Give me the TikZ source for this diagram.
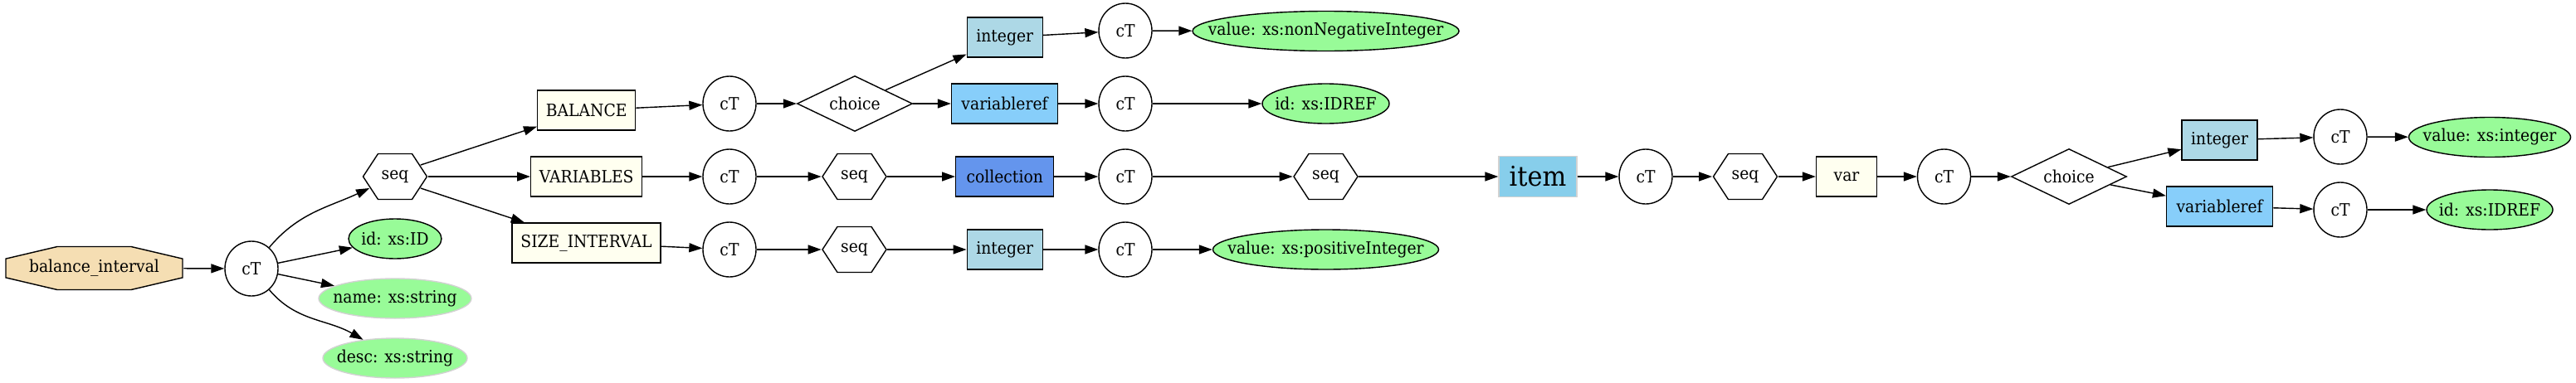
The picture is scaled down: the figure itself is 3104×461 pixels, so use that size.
\documentclass[tikz,border=0pt]{standalone}
\usepackage{fontspec}
\setmainfont{DejaVu Serif}[FakeStretch=0.92]
\usetikzlibrary{arrows.meta,shapes.geometric}

\definecolor{wheat}{HTML}{F5DEB3}
\definecolor{palegreen}{HTML}{98FB98}
\definecolor{ivory}{HTML}{FFFFF0}
\definecolor{lightblue}{HTML}{ADD8E6}
\definecolor{lightskyblue}{HTML}{87CEFA}
\definecolor{cornflower}{HTML}{6495ED}
\definecolor{skyblue}{HTML}{87CEEB}

\begin{document}
\begin{tikzpicture}
  [x=0.5pt,y=-0.5pt,
   every node/.style={font=\fontsize{10.2}{12}\selectfont,inner sep=0pt},
   ct/.style={ellipse,draw,line width=.7pt,minimum width=32pt,minimum height=33pt},
   elem/.style={rectangle,draw,line width=.7pt,fill=ivory,minimum height=24pt},
   attr/.style={ellipse,draw,line width=.7pt,fill=palegreen,minimum height=24pt,inner xsep=-25pt},
   optattr/.style={attr,draw=gray!35},
   choicebox/.style={diamond,draw,line width=.7pt,shape aspect=2,minimum width=69.5pt,minimum height=33.5pt},
   seqbox/.style={minimum width=39.5pt,minimum height=28.5pt,
     path picture={\draw[line width=.7pt] ([xshift=.5pt]path picture bounding box.west)
       -- ++(9pt,13.75pt) -- ++(20.5pt,0pt) -- ++(9pt,-13.75pt)
       -- ++(-9pt,-13.75pt) -- ++(-20.5pt,0pt) -- cycle;}},
   rootbox/.style={minimum width=107.5pt,minimum height=27pt,
     path picture={\filldraw[fill=wheat,line width=.7pt] ([xshift=.5pt,yshift=5.7pt]path picture bounding box.west)
       -- ++(0pt,-11.4pt) -- ++(31pt,-7.3pt) -- ++(44.5pt,0pt) -- ++(31pt,7.3pt)
       -- ++(0pt,11.4pt) -- ++(-31pt,7.3pt) -- ++(-44.5pt,0pt) -- cycle;}},
   arr/.style={line width=.7pt,-{Triangle[length=8pt,width=5.5pt]}}]
  \useasboundingbox (0,0) rectangle (3104,461);

  \node[rootbox] (root) at (113.5,323.5) {balance\_interval};
  \node[ct] (ct1) at (303,324) {cT};
  \node[seqbox] (seq1) at (476,213) {seq};
  \node[attr,minimum width=56pt] (id1) at (476,288) {id: xs:ID};
  \node[optattr,minimum width=92pt] (name1) at (476,360) {name: xs:string};
  \node[optattr,minimum width=87pt] (desc1) at (476,432) {desc: xs:string};

  \node[elem,minimum width=59pt] (bal) at (706.7,133) {BALANCE};
  \node[elem,minimum width=67pt] (vars) at (706.7,213) {VARIABLES};
  \node[elem,minimum width=89.5pt] (size) at (706.5,293) {SIZE\_INTERVAL};

  \node[ct] (ct2) at (879,125) {cT};
  \node[choicebox] (ch1) at (1030,125) {choice};
  \node[elem,fill=lightblue,minimum width=45.5pt] (int1) at (1210.7,45) {integer};
  \node[elem,fill=lightskyblue,minimum width=64pt] (vref1) at (1210.5,125) {variableref};
  \node[ct] (ct3) at (1356,37) {cT};
  \node[attr,minimum width=160.5pt] (val1) at (1597.5,37.5) {value: xs:nonNegativeInteger};
  \node[ct] (ct4) at (1356,125) {cT};
  \node[attr,minimum width=76.5pt] (idref1) at (1597.5,125) {id: xs:IDREF};

  \node[ct] (ct5) at (879,213) {cT};
  \node[seqbox] (seq2) at (1029.5,213) {seq};
  \node[elem,fill=cornflower,minimum width=59pt] (coll) at (1210.7,213) {collection};
  \node[ct] (ct6) at (1356,213) {cT};
  \node[seqbox] (seq3) at (1597.5,213) {seq};
  \node[elem,fill=skyblue,draw=gray!35,minimum width=47pt,minimum height=24.5pt,
        font=\fontsize{16.5}{19}\selectfont] (item) at (1853,213) {item};
  \node[ct] (ct7) at (1983,213) {cT};
  \node[seqbox] (seq4) at (2103,213) {seq};
  \node[elem,minimum width=36.5pt] (var) at (2225,213) {var};
  \node[ct] (ct8) at (2342.5,213) {cT};
  \node[choicebox] (ch2) at (2493,213) {choice};
  \node[elem,fill=lightblue,minimum width=45.5pt] (int2) at (2674.6,169) {integer};
  \node[elem,fill=lightskyblue,minimum width=64pt] (vref2) at (2674.6,249) {variableref};
  \node[ct] (ct9) at (2820,165) {cT};
  \node[attr,minimum width=97.5pt] (val2) at (3000,165.5) {value: xs:integer};
  \node[ct] (ct10) at (2820,253) {cT};
  \node[attr,minimum width=76pt] (idref2) at (3000,253) {id: xs:IDREF};

  \node[ct] (ct11) at (879,301) {cT};
  \node[seqbox] (seq5) at (1029.5,301) {seq};
  \node[elem,fill=lightblue,minimum width=45.5pt] (int3) at (1210.7,301) {integer};
  \node[ct] (ct12) at (1356,301) {cT};
  \node[attr,minimum width=136pt] (val3) at (1597.5,301) {value: xs:positiveInteger};

  % ends on the slanted sides of the first seq
  \coordinate (seq1in) at ([shift={(9,14)}]seq1.west);
  \coordinate (seq1ne) at ([shift={(-9,-14)}]seq1.east);
  \coordinate (seq1se) at ([shift={(-9,14)}]seq1.east);

  \draw[arr] (root) -- (ct1);
  \draw[arr] (ct1) to[out=50,in=205] (seq1in);
  \draw[arr] (ct1) -- (id1);
  \draw[arr] (ct1) -- (name1);
  \draw[arr] (ct1) to[out=-50,in=150] (desc1);

  \draw[arr] (seq1ne) -- (bal);
  \draw[arr] (seq1) -- (vars);
  \draw[arr] (seq1se) -- (size);

  \draw[arr] (bal) -- (ct2);
  \draw[arr] (ct2) -- (ch1);
  \draw[arr] (ch1) -- (int1);
  \draw[arr] (ch1) -- (vref1);
  \draw[arr] (int1) -- (ct3);
  \draw[arr] (ct3) -- (val1);
  \draw[arr] (vref1) -- (ct4);
  \draw[arr] (ct4) -- (idref1);

  \draw[arr] (vars) -- (ct5);
  \draw[arr] (ct5) -- (seq2);
  \draw[arr] (seq2) -- (coll);
  \draw[arr] (coll) -- (ct6);
  \draw[arr] (ct6) -- (seq3);
  \draw[arr] (seq3) -- (item);
  \draw[arr] (item) -- (ct7);
  \draw[arr] (ct7) -- (seq4);
  \draw[arr] (seq4) -- (var);
  \draw[arr] (var) -- (ct8);
  \draw[arr] (ct8) -- (ch2);
  \draw[arr] (ch2) -- (int2);
  \draw[arr] (ch2) -- (vref2);
  \draw[arr] (int2) -- (ct9);
  \draw[arr] (ct9) -- (val2);
  \draw[arr] (vref2) -- (ct10);
  \draw[arr] (ct10) -- (idref2);

  \draw[arr] (size) -- (ct11);
  \draw[arr] (ct11) -- (seq5);
  \draw[arr] (seq5) -- (int3);
  \draw[arr] (int3) -- (ct12);
  \draw[arr] (ct12) -- (val3);
\end{tikzpicture}
\end{document}
